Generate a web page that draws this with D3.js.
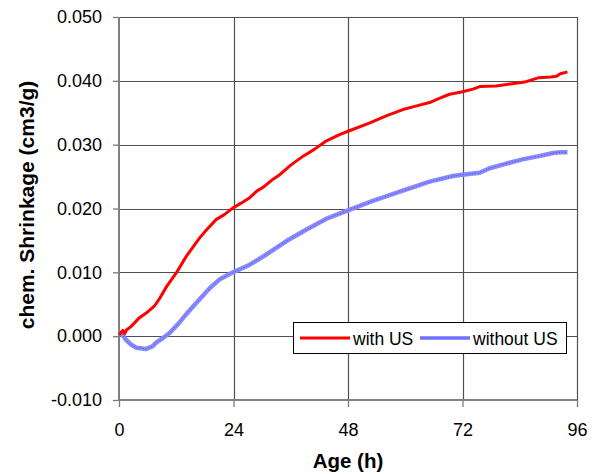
<!DOCTYPE html>
<html>
<head>
<meta charset="utf-8">
<script src="https://cdn.jsdelivr.net/npm/d3@7"></script>
<style>
    body { margin: 0; background: #fff; }
    svg { display: block; font-family: Arial, 'Liberation Sans', sans-serif; }
</style>
</head>
<body>
<div id="container"></div>
<script>
// chart data //

const xTicks = [0, 24, 48, 72, 96]
const yTicks = [-0.01, 0, 0.01, 0.02, 0.03, 0.04, 0.05]

const seriesNames = ['with US', 'without US']

// with US (red)
const withHours = [0, 0.8, 1.2, 1.6, 2.5, 4.3, 6, 7.5, 8.6, 10, 12, 14.1, 16.9, 18.5, 20.4, 22, 23.9,
    25.5, 27.4, 29, 30.2, 32.3, 33.7, 36, 38.6, 41, 43.5, 46, 48, 52.6, 56, 59.5, 62, 65.1, 67,
    69.3, 72, 74.2, 75.6, 79, 82, 85, 88, 90.5, 91.7, 92.5, 94]
const withValues = [0.0002, 0.0009, 0.0004, 0.001, 0.0015, 0.0029, 0.0038, 0.0048, 0.006, 0.0078,
    0.0099, 0.0125, 0.0154, 0.0168, 0.0183, 0.019, 0.0201, 0.0208, 0.0217, 0.0228, 0.0233, 0.0246,
    0.0253, 0.0268, 0.0282, 0.0293, 0.0306, 0.0315, 0.0321, 0.0334, 0.0345, 0.0355, 0.036, 0.0366,
    0.0372, 0.0379, 0.0383, 0.0387, 0.0391, 0.0392, 0.0395, 0.0398, 0.0405, 0.0406, 0.0407, 0.0411,
    0.0414]

// without US (blue)
const withoutHours = [0, 0.5, 1.5, 2.5, 3.6, 5.7, 7, 7.8, 9, 10.6, 12.5, 14.5, 16.9, 19, 21.1, 23.9,
    27.4, 30.9, 35.1, 39.3, 43.5, 48, 53.2, 59.5, 65.1, 70, 72, 75.6, 77.7, 81, 84.6, 88, 91, 92.5, 94]
const withoutValues = [0.0006, 0.0004, -0.0006, -0.0013, -0.0018, -0.002, -0.0016, -0.001, -0.0004,
    0.0005, 0.002, 0.0038, 0.0058, 0.0075, 0.0089, 0.01, 0.0112, 0.0128, 0.0149, 0.0167, 0.0184,
    0.0197, 0.0212, 0.0228, 0.0242, 0.0251, 0.0253, 0.0256, 0.0263, 0.027, 0.0277, 0.0282, 0.0287,
    0.0288, 0.0288]

// end chart data //

const width = 598
const height = 474
const plot = { left: 119, right: 577, top: 17, bottom: 400 }

const svg = d3
    .select('#container')
    .append('svg')
    .attr('width', width)
    .attr('height', height)

const x = d3.scaleLinear().domain([0, 96]).range([plot.left, plot.right])
const y = d3.scaleLinear().domain([-0.01, 0.05]).range([plot.bottom, plot.top])

// gridlines
svg.append('g')
    .selectAll('line')
    .data(yTicks.slice(1))
    .join('line')
    .attr('x1', plot.left)
    .attr('x2', plot.right)
    .attr('y1', (d) => Math.round(y(d)) + 0.5)
    .attr('y2', (d) => Math.round(y(d)) + 0.5)
    .attr('stroke', '#505050')
    .attr('stroke-width', 1.2)

svg.append('g')
    .selectAll('line')
    .data(xTicks.slice(1))
    .join('line')
    .attr('x1', (d) => Math.round(x(d)) + 0.5)
    .attr('x2', (d) => Math.round(x(d)) + 0.5)
    .attr('y1', plot.top)
    .attr('y2', plot.bottom)
    .attr('stroke', '#505050')
    .attr('stroke-width', 1.2)

// axes
const yAxis = svg.append('g')
    .attr('transform', `translate(${plot.left},0)`)
    .call(
        d3.axisLeft(y)
            .tickValues(yTicks)
            .tickFormat((d) => d.toFixed(3))
            .tickSize(6)
            .tickPadding(11)
    )

const xAxis = svg.append('g')
    .attr('transform', `translate(0,${plot.bottom})`)
    .call(
        d3.axisBottom(x)
            .tickValues(xTicks)
            .tickFormat(d3.format('d'))
            .tickSize(7)
            .tickPadding(16)
    )

;[yAxis, xAxis].forEach((axis) => {
    axis.select('.domain').remove()
    axis.selectAll('line').attr('stroke', '#7a7a7a').attr('stroke-width', 1.3)
    axis.selectAll('text').attr('font-size', 18).attr('fill', '#000')
        .attr('font-family', 'Arial, Liberation Sans, sans-serif')
})

svg.append('line')
    .attr('x1', plot.left).attr('x2', plot.left)
    .attr('y1', plot.top).attr('y2', plot.bottom + 1)
    .attr('stroke', '#808080').attr('stroke-width', 2)
svg.append('line')
    .attr('x1', plot.left).attr('x2', plot.right)
    .attr('y1', plot.bottom).attr('y2', plot.bottom)
    .attr('stroke', '#808080').attr('stroke-width', 2)

// curves
const line = d3.line()
    .x((d) => x(d[0]))
    .y((d) => y(d[1]))
    .curve(d3.curveLinear)

const withData = d3.zip(withHours, withValues)
const withoutData = d3.zip(withoutHours, withoutValues)

svg.append('path')
    .datum(withoutData)
    .attr('d', line)
    .attr('fill', 'none')
    .attr('stroke', '#8a8aff')
    .attr('stroke-width', 4.5)
    .attr('stroke-linejoin', 'round')
svg.append('path')
    .datum(withoutData)
    .attr('d', line)
    .attr('fill', 'none')
    .attr('stroke', '#4848f0')
    .attr('stroke-width', 1)
    .attr('stroke-dasharray', '1 2')

svg.append('path')
    .datum(withData)
    .attr('d', line)
    .attr('fill', 'none')
    .attr('stroke', '#ff0000')
    .attr('stroke-width', 3)
    .attr('stroke-linejoin', 'round')

// legend
const legend = svg.append('g')
legend.append('rect')
    .attr('x', 293.5).attr('y', 322.5)
    .attr('width', 273).attr('height', 31)
    .attr('fill', '#fff').attr('stroke', '#000').attr('stroke-width', 1)

const legendItems = [
    { name: seriesNames[0], color: '#ff0000', w: 3, x0: 300 },
    { name: seriesNames[1], color: '#7070ff', w: 3.5, x0: 420 }
]
legendItems.forEach((item) => {
    legend.append('line')
        .attr('x1', item.x0).attr('x2', item.x0 + 50)
        .attr('y1', 338).attr('y2', 338)
        .attr('stroke', item.color).attr('stroke-width', item.w)
    legend.append('text')
        .attr('x', item.x0 + 53).attr('y', 344.5)
        .attr('font-size', 17.5)
        .text(item.name)
})

// titles
svg.append('text')
    .attr('x', 348).attr('y', 468)
    .attr('text-anchor', 'middle')
    .attr('font-size', 20.5)
    .attr('font-weight', 'bold')
    .text('Age (h)')

svg.append('text')
    .attr('transform', 'translate(34,205) rotate(-90)')
    .attr('text-anchor', 'middle')
    .attr('font-size', 21)
    .attr('font-weight', 'bold')
    .text('chem. Shrinkage (cm3/g)')
</script>
</body>
</html>
